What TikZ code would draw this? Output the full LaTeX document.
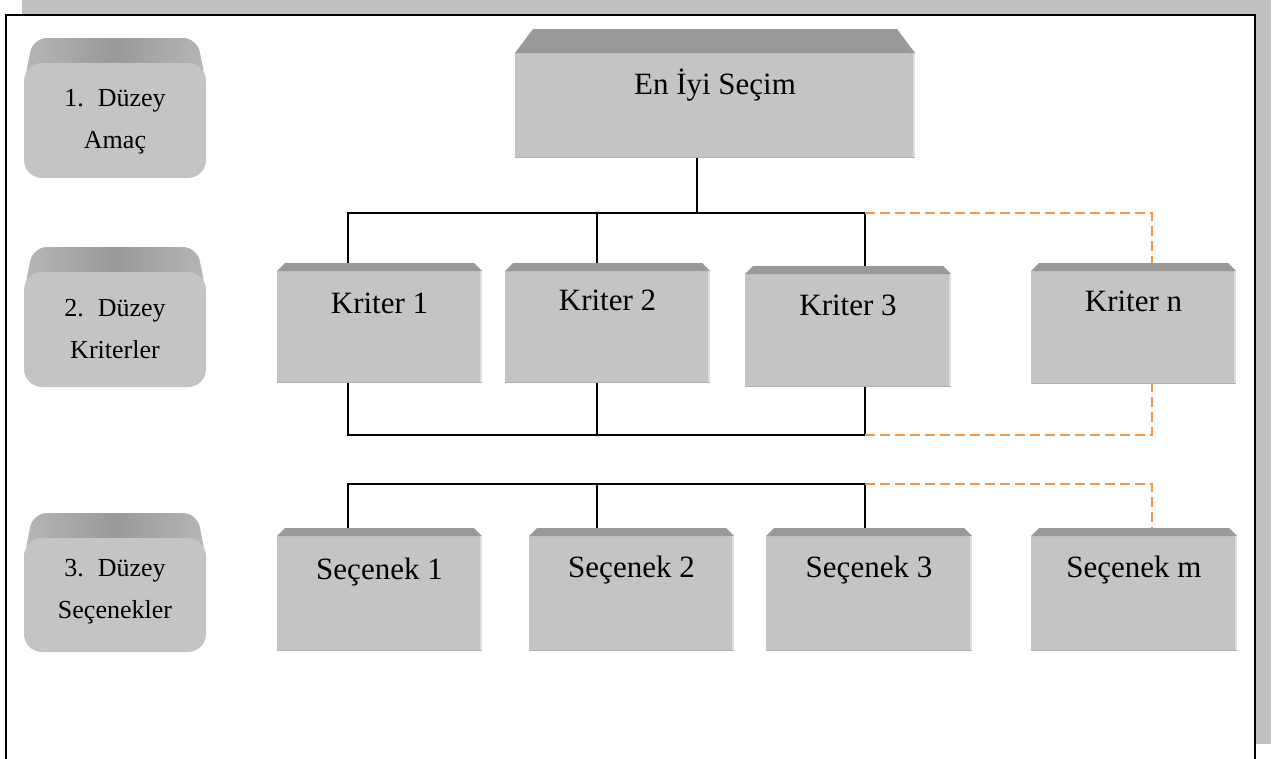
\documentclass[tikz,border=0pt]{standalone}
\usepackage{fontspec}
\setmainfont{Liberation Serif}
\usetikzlibrary{calc}

\definecolor{face}{HTML}{C4C4C4}
\definecolor{bevel}{HTML}{999999}
\definecolor{bevelside}{HTML}{B6B6B6}
\definecolor{rim}{HTML}{DEDEDE}
\definecolor{sill}{HTML}{B0B0B0}
\definecolor{shadowgray}{HTML}{C0C0C0}
\definecolor{linkorange}{HTML}{F79646}

\tikzset{
  % box with a bevelled top: #1 width, #2 full height, #3 bevel height, #4 bevel inset
  crate/.style n args={4}{
    shape=rectangle, inner sep=0pt, minimum width=#1, minimum height=#2,
    path picture={
      \fill[face] ([yshift=-#3]path picture bounding box.north west)
        rectangle (path picture bounding box.south east);
      \fill[bevel] ([yshift=-#3]path picture bounding box.north west)
        -- ([xshift=#4]path picture bounding box.north west)
        -- ([xshift=-#4]path picture bounding box.north east)
        -- ([yshift=-#3]path picture bounding box.north east) -- cycle;
      \fill[rim] ([xshift=-2.5pt,yshift=-#3]path picture bounding box.north east)
        rectangle (path picture bounding box.south east);
      \fill[sill] ([yshift=1.5pt]path picture bounding box.south west)
        rectangle (path picture bounding box.south east);
    }},
  % rounded level tag with a bevelled top: #1 full height
  tag/.style={
    shape=rectangle, inner sep=0pt, minimum width=182pt, minimum height=#1,
    path picture={
      \shade[left color=bevelside, right color=bevelside, middle color=bevel,
             rounded corners=14pt]
        ([yshift=-45pt]path picture bounding box.north west)
        -- ([xshift=9pt]path picture bounding box.north west)
        -- ([xshift=-9pt]path picture bounding box.north east)
        -- ([yshift=-45pt]path picture bounding box.north east) -- cycle;
      \fill[face, rounded corners=18pt]
        ([yshift=-25pt]path picture bounding box.north west)
        rectangle (path picture bounding box.south east);
    }},
  boxtext/.style={inner sep=0pt, anchor=base, font=\fontsize{31}{36}\selectfont},
  % anchored at the baseline of the last line
  tagtext/.style={inner sep=0pt, anchor=base, align=center,
                  font=\fontsize{26}{42}\selectfont},
  link/.style={draw=black, line width=1.6pt},
  optlink/.style={draw=linkorange, line width=2.6pt, dash pattern=on 10pt off 5pt},
}

\begin{document}
\begin{tikzpicture}[x=1pt, y=-1pt]
  \useasboundingbox (0,0) rectangle (1282,758);
  \clip (0,0) rectangle (1282,758);

  % page with its drop shadow
  \fill[shadowgray] (22,0) rectangle (1271,744);
  \filldraw[fill=white, draw=black, line width=2pt] (6,15) rectangle (1255,790);

  % level tags
  \node[tag=140pt] (lv1) at (115,108) {};
  \node[tag=140pt] (lv2) at (115,317) {};
  \node[tag=139pt] (lv3) at (115,582.5) {};
  \node[tagtext] (lv1t) at (115,148) {1.\hskip 14pt Düzey\\Amaç};
  \node[tagtext] (lv2t) at (115,358) {2.\hskip 14pt Düzey\\Kriterler};
  \node[tagtext] (lv3t) at (115,618) {3.\hskip 14pt Düzey\\Seçenekler};

  % goal
  \node[crate={400pt}{129pt}{24pt}{18pt}] (top) at (715,93.5) {};
  \node[boxtext] (topt) at (715,94) {En İyi Seçim};

  % criteria
  \node[crate={205pt}{120pt}{8pt}{8pt}] (k1) at (379.5,323) {};
  \node[crate={205pt}{120pt}{8pt}{8pt}] (k2) at (607.5,323) {};
  \node[crate={206pt}{121pt}{8pt}{8pt}] (k3) at (848,326.5) {};
  \node[crate={205pt}{121pt}{8pt}{8pt}] (kn) at (1133.5,323.5) {};
  \node[boxtext] (k1t) at (379.5,313) {Kriter 1};
  \node[boxtext] (k2t) at (607.5,310) {Kriter 2};
  \node[boxtext] (k3t) at (848,315) {Kriter 3};
  \node[boxtext] (knt) at (1133.5,311) {Kriter n};

  % alternatives
  \node[crate={205pt}{123pt}{8pt}{8pt}] (s1) at (379.5,589.5) {};
  \node[crate={205pt}{123pt}{8pt}{8pt}] (s2) at (631.5,589.5) {};
  \node[crate={206pt}{123pt}{8pt}{8pt}] (s3) at (869,589.5) {};
  \node[crate={206pt}{123pt}{8pt}{8pt}] (sm) at (1134,589.5) {};
  \node[boxtext] (s1t) at (379.5,579) {Seçenek 1};
  \node[boxtext] (s2t) at (631.5,577) {Seçenek 2};
  \node[boxtext] (s3t) at (869,577) {Seçenek 3};
  \node[boxtext] (smt) at (1134,577) {Seçenek m};

  % bus from the goal to the criteria
  \coordinate (hub) at (697,213);
  \coordinate (ka) at (348,213);
  \coordinate (kb) at (597,213);
  \coordinate (kc) at (865,213);
  \coordinate (kd) at (1152,213);
  \draw[link] (hub |- top.south) -- (hub);
  \draw[link] (ka |- k1.north) -- (ka) -- (kc) -- (kc |- k3.north);
  \draw[link] (kb) -- (kb |- k2.north);
  \draw[optlink] (kc) -- (kd) -- (kd |- kn.north);

  % bus joining the criteria below
  \coordinate (la) at (348,435);
  \coordinate (lb) at (597,435);
  \coordinate (lc) at (865,435);
  \coordinate (ld) at (1152,435);
  \draw[link] (la |- k1.south) -- (la) -- (lc) -- (lc |- k3.south);
  \draw[link] (lb |- k2.south) -- (lb);
  \draw[optlink] (lc) -- (ld) -- (ld |- kn.south);

  % bus to the alternatives
  \coordinate (ma) at (348,484);
  \coordinate (mb) at (597,484);
  \coordinate (mc) at (865,484);
  \coordinate (md) at (1152,484);
  \draw[link] (ma |- s1.north) -- (ma) -- (mc) -- (mc |- s3.north);
  \draw[link] (mb) -- (mb |- s2.north);
  \draw[optlink] (mc) -- (md) -- (md |- sm.north);
\end{tikzpicture}
\end{document}
